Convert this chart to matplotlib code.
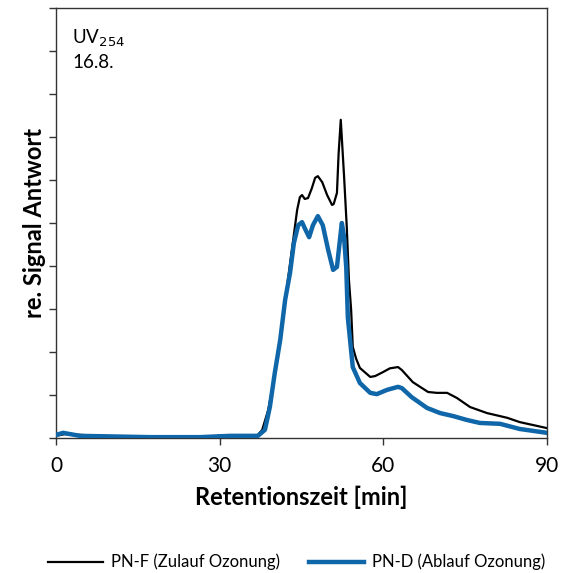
import matplotlib.pyplot as plt

plt.rcParams['font.family'] = ['Lato', 'DejaVu Sans']

# Retentionszeit [min] und Signal
zeit_f = [0, 1.6, 8.1, 17.2, 26.4, 30.0, 35.6, 37.0, 37.8, 38.9, 40.1, 41.1, 42.5, 43.4,
          44.2, 44.7, 45.1, 45.6, 46.2, 46.9, 47.5, 48.0, 48.8, 49.7, 50.6, 50.9, 51.5,
          51.8, 52.2, 52.8, 53.3, 53.7, 54.1, 54.4, 55.0, 55.7, 57.6, 58.5,
          59.9, 61.2, 62.7, 63.4, 65.4, 68.2, 69.8, 71.7, 73.5, 75.9, 79.0, 82.7, 85.0, 90.0]
signal_f = [0.05, 0.09, 0.05, 0.02, 0.02, 0.05, 0.05, 0.07, 0.19, 0.65, 1.47, 2.28, 3.67, 4.53,
            5.30, 5.60, 5.65, 5.56, 5.58, 5.81, 6.05, 6.09, 5.95, 5.65, 5.42, 5.44, 5.70,
            6.60, 7.40, 6.10, 4.91, 3.67, 2.98, 2.12, 1.85, 1.63, 1.42, 1.44,
            1.53, 1.62, 1.65, 1.58, 1.30, 1.07, 1.05, 1.05, 0.93, 0.72, 0.58, 0.47, 0.37, 0.23]

zeit_d = [0, 1.3, 4.4, 17.2, 26.4, 31.9, 35.6, 37.0, 38.3, 39.2, 40.1, 41.1, 42.0, 42.9,
          43.6, 44.4, 45.1, 45.6, 46.4, 47.1, 48.0, 48.9, 49.9, 50.8, 51.5, 51.9, 52.4,
          52.8, 53.2, 53.5, 54.4, 55.7, 57.6, 58.8, 60.7, 62.7, 63.4, 65.2, 68.0, 70.4,
          72.8, 75.3, 77.7, 81.4, 85.0, 90.0]
signal_d = [0.07, 0.12, 0.05, 0.02, 0.02, 0.05, 0.05, 0.05, 0.19, 0.72, 1.51, 2.28, 3.21, 3.84,
            4.53, 4.95, 5.02, 4.88, 4.67, 4.95, 5.16, 4.95, 4.37, 3.91, 3.98, 4.44, 5.00,
            4.67, 3.98, 2.80, 1.65, 1.28, 1.05, 1.02, 1.12, 1.19, 1.16, 0.95, 0.70, 0.58,
            0.51, 0.42, 0.35, 0.33, 0.21, 0.12]

fig = plt.figure(figsize=(5.65, 5.73), dpi=100)
ax = fig.add_axes([0.0991, 0.2356, 0.8690, 0.7504])

ax.plot(zeit_f, signal_f, color='black', lw=1.6, label='PN-F (Zulauf Ozonung)',
        solid_joinstyle='round', zorder=2)
ax.plot(zeit_d, signal_d, color='#0F66A8', lw=3.2, label='PN-D (Ablauf Ozonung)',
        solid_joinstyle='round', zorder=3)

ax.set_xlim(0, 90)
ax.set_ylim(0, 10)
ax.set_xticks([0, 30, 60, 90])
ax.set_yticks(range(0, 11))
ax.set_yticklabels([])
ax.tick_params(axis='both', direction='out', length=5, width=1, colors='#333333',
               labelcolor='black', labelsize=15)
ax.tick_params(axis='x', pad=8)
for s in ax.spines.values():
    s.set_color('#333333')
    s.set_linewidth(1)

ax.set_xlabel('Retentionszeit [min]', fontsize=17, fontweight='bold', labelpad=7)
ax.set_ylabel('re. Signal Antwort', fontsize=17, fontweight='bold', labelpad=-1)

ax.text(0.033, 0.955, 'UV$_{254}$', transform=ax.transAxes, fontsize=13.5, va='top')
ax.text(0.033, 0.893, '16.8.', transform=ax.transAxes, fontsize=13.5, va='top')

fig.legend(loc='center', bbox_to_anchor=(0.525, 0.019), ncol=2, frameon=False,
           fontsize=12, handlelength=3.3, columnspacing=1.7, handletextpad=0.5)

fig.savefig('out.png', dpi=100)
